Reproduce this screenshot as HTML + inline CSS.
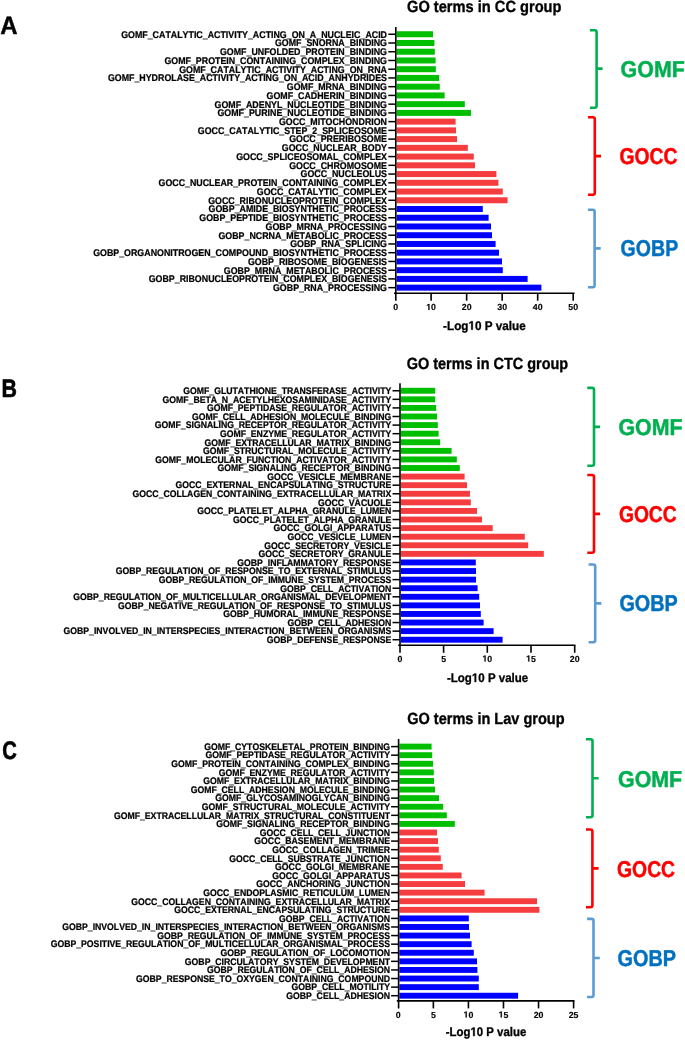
<!DOCTYPE html><html><head><meta charset="utf-8"><style>html,body{margin:0;padding:0;background:#fff;width:685px;height:1041px;overflow:hidden}svg{display:block;will-change:transform}text{font-family:"Liberation Sans",sans-serif;font-weight:bold;font-kerning:none;text-rendering:geometricPrecision}</style></head><body>
<svg width="685" height="1041" viewBox="0 0 685 1041">
<rect width="685" height="1041" fill="#fff"/>
<rect x="396.6" y="31.25" width="36.4" height="6" fill="#00be00"/>
<rect x="396.6" y="39.99" width="37.8" height="6" fill="#00be00"/>
<rect x="396.6" y="48.73" width="38.2" height="6" fill="#00be00"/>
<rect x="396.6" y="57.46" width="39" height="6" fill="#00be00"/>
<rect x="396.6" y="66.2" width="39.2" height="6" fill="#00be00"/>
<rect x="396.6" y="74.94" width="42.6" height="6" fill="#00be00"/>
<rect x="396.6" y="83.68" width="43.2" height="6" fill="#00be00"/>
<rect x="396.6" y="92.42" width="48" height="6" fill="#00be00"/>
<rect x="396.6" y="101.15" width="68.2" height="6" fill="#00be00"/>
<rect x="396.6" y="109.89" width="74.4" height="6" fill="#00be00"/>
<rect x="396.6" y="118.63" width="59" height="6" fill="#f53c3f"/>
<rect x="396.6" y="127.37" width="59.4" height="6" fill="#f53c3f"/>
<rect x="396.6" y="136.11" width="60.4" height="6" fill="#f53c3f"/>
<rect x="396.6" y="144.84" width="71.2" height="6" fill="#f53c3f"/>
<rect x="396.6" y="153.58" width="77.2" height="6" fill="#f53c3f"/>
<rect x="396.6" y="162.32" width="78.4" height="6" fill="#f53c3f"/>
<rect x="396.6" y="171.06" width="99.8" height="6" fill="#f53c3f"/>
<rect x="396.6" y="179.8" width="101.8" height="6" fill="#f53c3f"/>
<rect x="396.6" y="188.53" width="106.2" height="6" fill="#f53c3f"/>
<rect x="396.6" y="197.27" width="111" height="6" fill="#f53c3f"/>
<rect x="396.6" y="206.01" width="86.2" height="6" fill="#0000ff"/>
<rect x="396.6" y="214.75" width="92" height="6" fill="#0000ff"/>
<rect x="396.6" y="223.49" width="94.4" height="6" fill="#0000ff"/>
<rect x="396.6" y="232.22" width="95.4" height="6" fill="#0000ff"/>
<rect x="396.6" y="240.96" width="99" height="6" fill="#0000ff"/>
<rect x="396.6" y="249.7" width="102.4" height="6" fill="#0000ff"/>
<rect x="396.6" y="258.44" width="105.4" height="6" fill="#0000ff"/>
<rect x="396.6" y="267.18" width="106.2" height="6" fill="#0000ff"/>
<rect x="396.6" y="275.91" width="131" height="6" fill="#0000ff"/>
<rect x="396.6" y="284.65" width="144.8" height="6" fill="#0000ff"/>
<line x1="388.3" y1="34.25" x2="395.8" y2="34.25" stroke="#000" stroke-width="1.5"/>
<text transform="translate(387 37.6) scale(1 1.1)" font-size="8.86" text-anchor="end" stroke="#000" stroke-width="0.22">GOMF_CATALYTIC_ACTIVITY_ACTING_ON_A_NUCLEIC_ACID</text>
<line x1="388.3" y1="42.99" x2="395.8" y2="42.99" stroke="#000" stroke-width="1.5"/>
<text transform="translate(387 46.34) scale(1 1.1)" font-size="8.86" text-anchor="end" stroke="#000" stroke-width="0.22">GOMF_SNORNA_BINDING</text>
<line x1="388.3" y1="51.73" x2="395.8" y2="51.73" stroke="#000" stroke-width="1.5"/>
<text transform="translate(387 55.08) scale(1 1.1)" font-size="8.86" text-anchor="end" stroke="#000" stroke-width="0.22">GOMF_UNFOLDED_PROTEIN_BINDING</text>
<line x1="388.3" y1="60.46" x2="395.8" y2="60.46" stroke="#000" stroke-width="1.5"/>
<text transform="translate(387 63.82) scale(1 1.1)" font-size="8.86" text-anchor="end" stroke="#000" stroke-width="0.22">GOMF_PROTEIN_CONTAINING_COMPLEX_BINDING</text>
<line x1="388.3" y1="69.2" x2="395.8" y2="69.2" stroke="#000" stroke-width="1.5"/>
<text transform="translate(387 72.55) scale(1 1.1)" font-size="8.86" text-anchor="end" stroke="#000" stroke-width="0.22">GOMF_CATALYTIC_ACTIVITY_ACTING_ON_RNA</text>
<line x1="388.3" y1="77.94" x2="395.8" y2="77.94" stroke="#000" stroke-width="1.5"/>
<text transform="translate(387 81.29) scale(1 1.1)" font-size="8.86" text-anchor="end" stroke="#000" stroke-width="0.22">GOMF_HYDROLASE_ACTIVITY_ACTING_ON_ACID_ANHYDRIDES</text>
<line x1="388.3" y1="86.68" x2="395.8" y2="86.68" stroke="#000" stroke-width="1.5"/>
<text transform="translate(387 90.03) scale(1 1.1)" font-size="8.86" text-anchor="end" stroke="#000" stroke-width="0.22">GOMF_MRNA_BINDING</text>
<line x1="388.3" y1="95.42" x2="395.8" y2="95.42" stroke="#000" stroke-width="1.5"/>
<text transform="translate(387 98.77) scale(1 1.1)" font-size="8.86" text-anchor="end" stroke="#000" stroke-width="0.22">GOMF_CADHERIN_BINDING</text>
<line x1="388.3" y1="104.15" x2="395.8" y2="104.15" stroke="#000" stroke-width="1.5"/>
<text transform="translate(387 107.51) scale(1 1.1)" font-size="8.86" text-anchor="end" stroke="#000" stroke-width="0.22">GOMF_ADENYL_NUCLEOTIDE_BINDING</text>
<line x1="388.3" y1="112.89" x2="395.8" y2="112.89" stroke="#000" stroke-width="1.5"/>
<text transform="translate(387 116.24) scale(1 1.1)" font-size="8.86" text-anchor="end" stroke="#000" stroke-width="0.22">GOMF_PURINE_NUCLEOTIDE_BINDING</text>
<line x1="388.3" y1="121.63" x2="395.8" y2="121.63" stroke="#000" stroke-width="1.5"/>
<text transform="translate(387 124.98) scale(1 1.1)" font-size="8.86" text-anchor="end" stroke="#000" stroke-width="0.22">GOCC_MITOCHONDRION</text>
<line x1="388.3" y1="130.37" x2="395.8" y2="130.37" stroke="#000" stroke-width="1.5"/>
<text transform="translate(387 133.72) scale(1 1.1)" font-size="8.86" text-anchor="end" stroke="#000" stroke-width="0.22">GOCC_CATALYTIC_STEP_2_SPLICEOSOME</text>
<line x1="388.3" y1="139.11" x2="395.8" y2="139.11" stroke="#000" stroke-width="1.5"/>
<text transform="translate(387 142.46) scale(1 1.1)" font-size="8.86" text-anchor="end" stroke="#000" stroke-width="0.22">GOCC_PRERIBOSOME</text>
<line x1="388.3" y1="147.84" x2="395.8" y2="147.84" stroke="#000" stroke-width="1.5"/>
<text transform="translate(387 151.2) scale(1 1.1)" font-size="8.86" text-anchor="end" stroke="#000" stroke-width="0.22">GOCC_NUCLEAR_BODY</text>
<line x1="388.3" y1="156.58" x2="395.8" y2="156.58" stroke="#000" stroke-width="1.5"/>
<text transform="translate(387 159.93) scale(1 1.1)" font-size="8.86" text-anchor="end" stroke="#000" stroke-width="0.22">GOCC_SPLICEOSOMAL_COMPLEX</text>
<line x1="388.3" y1="165.32" x2="395.8" y2="165.32" stroke="#000" stroke-width="1.5"/>
<text transform="translate(387 168.67) scale(1 1.1)" font-size="8.86" text-anchor="end" stroke="#000" stroke-width="0.22">GOCC_CHROMOSOME</text>
<line x1="388.3" y1="174.06" x2="395.8" y2="174.06" stroke="#000" stroke-width="1.5"/>
<text transform="translate(387 177.41) scale(1 1.1)" font-size="8.86" text-anchor="end" stroke="#000" stroke-width="0.22">GOCC_NUCLEOLUS</text>
<line x1="388.3" y1="182.8" x2="395.8" y2="182.8" stroke="#000" stroke-width="1.5"/>
<text transform="translate(387 186.15) scale(1 1.1)" font-size="8.86" text-anchor="end" stroke="#000" stroke-width="0.22">GOCC_NUCLEAR_PROTEIN_CONTAINING_COMPLEX</text>
<line x1="388.3" y1="191.53" x2="395.8" y2="191.53" stroke="#000" stroke-width="1.5"/>
<text transform="translate(387 194.89) scale(1 1.1)" font-size="8.86" text-anchor="end" stroke="#000" stroke-width="0.22">GOCC_CATALYTIC_COMPLEX</text>
<line x1="388.3" y1="200.27" x2="395.8" y2="200.27" stroke="#000" stroke-width="1.5"/>
<text transform="translate(387 203.62) scale(1 1.1)" font-size="8.86" text-anchor="end" stroke="#000" stroke-width="0.22">GOCC_RIBONUCLEOPROTEIN_COMPLEX</text>
<line x1="388.3" y1="209.01" x2="395.8" y2="209.01" stroke="#000" stroke-width="1.5"/>
<text transform="translate(387 212.36) scale(1 1.1)" font-size="8.86" text-anchor="end" stroke="#000" stroke-width="0.22">GOBP_AMIDE_BIOSYNTHETIC_PROCESS</text>
<line x1="388.3" y1="217.75" x2="395.8" y2="217.75" stroke="#000" stroke-width="1.5"/>
<text transform="translate(387 221.1) scale(1 1.1)" font-size="8.86" text-anchor="end" stroke="#000" stroke-width="0.22">GOBP_PEPTIDE_BIOSYNTHETIC_PROCESS</text>
<line x1="388.3" y1="226.49" x2="395.8" y2="226.49" stroke="#000" stroke-width="1.5"/>
<text transform="translate(387 229.84) scale(1 1.1)" font-size="8.86" text-anchor="end" stroke="#000" stroke-width="0.22">GOBP_MRNA_PROCESSING</text>
<line x1="388.3" y1="235.22" x2="395.8" y2="235.22" stroke="#000" stroke-width="1.5"/>
<text transform="translate(387 238.58) scale(1 1.1)" font-size="8.86" text-anchor="end" stroke="#000" stroke-width="0.22">GOBP_NCRNA_METABOLIC_PROCESS</text>
<line x1="388.3" y1="243.96" x2="395.8" y2="243.96" stroke="#000" stroke-width="1.5"/>
<text transform="translate(387 247.31) scale(1 1.1)" font-size="8.86" text-anchor="end" stroke="#000" stroke-width="0.22">GOBP_RNA_SPLICING</text>
<line x1="388.3" y1="252.7" x2="395.8" y2="252.7" stroke="#000" stroke-width="1.5"/>
<text transform="translate(387 256.05) scale(1 1.1)" font-size="8.86" text-anchor="end" stroke="#000" stroke-width="0.22">GOBP_ORGANONITROGEN_COMPOUND_BIOSYNTHETIC_PROCESS</text>
<line x1="388.3" y1="261.44" x2="395.8" y2="261.44" stroke="#000" stroke-width="1.5"/>
<text transform="translate(387 264.79) scale(1 1.1)" font-size="8.86" text-anchor="end" stroke="#000" stroke-width="0.22">GOBP_RIBOSOME_BIOGENESIS</text>
<line x1="388.3" y1="270.18" x2="395.8" y2="270.18" stroke="#000" stroke-width="1.5"/>
<text transform="translate(387 273.53) scale(1 1.1)" font-size="8.86" text-anchor="end" stroke="#000" stroke-width="0.22">GOBP_MRNA_METABOLIC_PROCESS</text>
<line x1="388.3" y1="278.91" x2="395.8" y2="278.91" stroke="#000" stroke-width="1.5"/>
<text transform="translate(387 282.27) scale(1 1.1)" font-size="8.86" text-anchor="end" stroke="#000" stroke-width="0.22">GOBP_RIBONUCLEOPROTEIN_COMPLEX_BIOGENESIS</text>
<line x1="388.3" y1="287.65" x2="395.8" y2="287.65" stroke="#000" stroke-width="1.5"/>
<text transform="translate(387 291) scale(1 1.1)" font-size="8.86" text-anchor="end" stroke="#000" stroke-width="0.22">GOBP_RNA_PROCESSING</text>
<line x1="395.8" y1="27" x2="395.8" y2="300.7" stroke="#000" stroke-width="1.6"/>
<line x1="394" y1="293.2" x2="574.6" y2="293.2" stroke="#000" stroke-width="1.6"/>
<g transform="translate(393.15 310) scale(1.0000 1.0)"><text x="0" y="0" font-size="8.8" stroke="#000" stroke-width="0.15">0</text></g>
<line x1="431.12" y1="293.2" x2="431.12" y2="300.7" stroke="#000" stroke-width="1.6"/>
<g transform="translate(426.23 310) scale(1.0000 1.0)"><path transform="translate(0 0) scale(0.00430 -0.00430)" d="M478 0V1170L140 959V1180L493 1409H759V0Z" stroke="#000" stroke-width="34.9"/><text x="4.89" y="0" font-size="8.8" stroke="#000" stroke-width="0.15">0</text></g>
<line x1="466.64" y1="293.2" x2="466.64" y2="300.7" stroke="#000" stroke-width="1.6"/>
<g transform="translate(461.75 310) scale(1.0000 1.0)"><text x="0" y="0" font-size="8.8" stroke="#000" stroke-width="0.15">20</text></g>
<line x1="502.16" y1="293.2" x2="502.16" y2="300.7" stroke="#000" stroke-width="1.6"/>
<g transform="translate(497.27 310) scale(1.0000 1.0)"><text x="0" y="0" font-size="8.8" stroke="#000" stroke-width="0.15">30</text></g>
<line x1="537.68" y1="293.2" x2="537.68" y2="300.7" stroke="#000" stroke-width="1.6"/>
<g transform="translate(532.79 310) scale(1.0000 1.0)"><text x="0" y="0" font-size="8.8" stroke="#000" stroke-width="0.15">40</text></g>
<line x1="573.2" y1="293.2" x2="573.2" y2="300.7" stroke="#000" stroke-width="1.6"/>
<g transform="translate(568.31 310) scale(1.0000 1.0)"><text x="0" y="0" font-size="8.8" stroke="#000" stroke-width="0.15">50</text></g>
<g transform="translate(443.1 329.7) scale(1.0018 1.06)"><text x="0" y="0" font-size="11.7" stroke="#000" stroke-width="0.3">-Log</text><path transform="translate(25.33 0) scale(0.00571 -0.00571)" d="M478 0V1170L140 959V1180L493 1409H759V0Z" stroke="#000" stroke-width="52.5"/><text x="31.84" y="0" font-size="11.7" stroke="#000" stroke-width="0.3">0 P value</text></g>
<text transform="translate(407 11.6) scale(1 1.12)" font-size="14.4" textLength="154.5" lengthAdjust="spacingAndGlyphs" stroke="#000" stroke-width="0.3">GO terms in CC group</text>
<text transform="translate(0.3 34.3) scale(1 1.04)" font-size="24" stroke="#000" stroke-width="0.4">A</text>
<path d="M589.9 30.2H594.6Q596.6 30.2 596.6 32.2V105.7Q596.6 107.7 594.6 107.7H589.9M596.6 68.6H602.6" fill="none" stroke="#00b050" stroke-width="2.6"/>
<path d="M588 117.2H592.8Q594.8 117.2 594.8 119.2V192.8Q594.8 194.8 592.8 194.8H588M594.8 156.1H601" fill="none" stroke="#ff0000" stroke-width="2.6"/>
<path d="M588 209.7H592.6Q594.6 209.7 594.6 211.7V285.3Q594.6 287.3 592.6 287.3H588M594.6 248.4H600.7" fill="none" stroke="#5b9bd5" stroke-width="2.6"/>
<text transform="translate(620.62 76.6) scale(1 1.04)" font-size="22" fill="#00b050" stroke="#00b050" stroke-width="0.45" textLength="64.16" lengthAdjust="spacingAndGlyphs">GOMF</text>
<text transform="translate(619.42 164.2) scale(1 1.04)" font-size="22" fill="#ff0000" stroke="#ff0000" stroke-width="0.45" textLength="58.06" lengthAdjust="spacingAndGlyphs">GOCC</text>
<text transform="translate(620.62 256) scale(1 1.04)" font-size="22" fill="#0070c0" stroke="#0070c0" stroke-width="0.45" textLength="57.56" lengthAdjust="spacingAndGlyphs">GOBP</text>
<rect x="400.8" y="387.8" width="34.4" height="5.9" fill="#00be00"/>
<rect x="400.8" y="396.38" width="34.4" height="5.9" fill="#00be00"/>
<rect x="400.8" y="404.97" width="35.4" height="5.9" fill="#00be00"/>
<rect x="400.8" y="413.56" width="36.2" height="5.9" fill="#00be00"/>
<rect x="400.8" y="422.14" width="37" height="5.9" fill="#00be00"/>
<rect x="400.8" y="430.73" width="37.8" height="5.9" fill="#00be00"/>
<rect x="400.8" y="439.31" width="39.4" height="5.9" fill="#00be00"/>
<rect x="400.8" y="447.9" width="50.8" height="5.9" fill="#00be00"/>
<rect x="400.8" y="456.48" width="56" height="5.9" fill="#00be00"/>
<rect x="400.8" y="465.07" width="59" height="5.9" fill="#00be00"/>
<rect x="400.8" y="473.65" width="63.8" height="5.9" fill="#f53c3f"/>
<rect x="400.8" y="482.24" width="66.2" height="5.9" fill="#f53c3f"/>
<rect x="400.8" y="490.82" width="69.2" height="5.9" fill="#f53c3f"/>
<rect x="400.8" y="499.41" width="70" height="5.9" fill="#f53c3f"/>
<rect x="400.8" y="507.99" width="76.2" height="5.9" fill="#f53c3f"/>
<rect x="400.8" y="516.58" width="81.2" height="5.9" fill="#f53c3f"/>
<rect x="400.8" y="525.16" width="91.9" height="5.9" fill="#f53c3f"/>
<rect x="400.8" y="533.75" width="124" height="5.9" fill="#f53c3f"/>
<rect x="400.8" y="542.33" width="127.4" height="5.9" fill="#f53c3f"/>
<rect x="400.8" y="550.91" width="143" height="5.9" fill="#f53c3f"/>
<rect x="400.8" y="559.5" width="75" height="5.9" fill="#0000ff"/>
<rect x="400.8" y="568.09" width="75.2" height="5.9" fill="#0000ff"/>
<rect x="400.8" y="576.67" width="75.2" height="5.9" fill="#0000ff"/>
<rect x="400.8" y="585.25" width="76.8" height="5.9" fill="#0000ff"/>
<rect x="400.8" y="593.84" width="78.4" height="5.9" fill="#0000ff"/>
<rect x="400.8" y="602.43" width="79.2" height="5.9" fill="#0000ff"/>
<rect x="400.8" y="611.01" width="80" height="5.9" fill="#0000ff"/>
<rect x="400.8" y="619.6" width="82.8" height="5.9" fill="#0000ff"/>
<rect x="400.8" y="628.18" width="92.8" height="5.9" fill="#0000ff"/>
<rect x="400.8" y="636.77" width="101.8" height="5.9" fill="#0000ff"/>
<line x1="392.5" y1="390.75" x2="400" y2="390.75" stroke="#000" stroke-width="1.5"/>
<text transform="translate(391.3 394.04) scale(1 1.1)" font-size="8.7" text-anchor="end" stroke="#000" stroke-width="0.22">GOMF_GLUTATHIONE_TRANSFERASE_ACTIVITY</text>
<line x1="392.5" y1="399.33" x2="400" y2="399.33" stroke="#000" stroke-width="1.5"/>
<text transform="translate(391.3 402.63) scale(1 1.1)" font-size="8.7" text-anchor="end" stroke="#000" stroke-width="0.22">GOMF_BETA_N_ACETYLHEXOSAMINIDASE_ACTIVITY</text>
<line x1="392.5" y1="407.92" x2="400" y2="407.92" stroke="#000" stroke-width="1.5"/>
<text transform="translate(391.3 411.21) scale(1 1.1)" font-size="8.7" text-anchor="end" stroke="#000" stroke-width="0.22">GOMF_PEPTIDASE_REGULATOR_ACTIVITY</text>
<line x1="392.5" y1="416.5" x2="400" y2="416.5" stroke="#000" stroke-width="1.5"/>
<text transform="translate(391.3 419.8) scale(1 1.1)" font-size="8.7" text-anchor="end" stroke="#000" stroke-width="0.22">GOMF_CELL_ADHESION_MOLECULE_BINDING</text>
<line x1="392.5" y1="425.09" x2="400" y2="425.09" stroke="#000" stroke-width="1.5"/>
<text transform="translate(391.3 428.38) scale(1 1.1)" font-size="8.7" text-anchor="end" stroke="#000" stroke-width="0.22">GOMF_SIGNALING_RECEPTOR_REGULATOR_ACTIVITY</text>
<line x1="392.5" y1="433.68" x2="400" y2="433.68" stroke="#000" stroke-width="1.5"/>
<text transform="translate(391.3 436.97) scale(1 1.1)" font-size="8.7" text-anchor="end" stroke="#000" stroke-width="0.22">GOMF_ENZYME_REGULATOR_ACTIVITY</text>
<line x1="392.5" y1="442.26" x2="400" y2="442.26" stroke="#000" stroke-width="1.5"/>
<text transform="translate(391.3 445.55) scale(1 1.1)" font-size="8.7" text-anchor="end" stroke="#000" stroke-width="0.22">GOMF_EXTRACELLULAR_MATRIX_BINDING</text>
<line x1="392.5" y1="450.85" x2="400" y2="450.85" stroke="#000" stroke-width="1.5"/>
<text transform="translate(391.3 454.14) scale(1 1.1)" font-size="8.7" text-anchor="end" stroke="#000" stroke-width="0.22">GOMF_STRUCTURAL_MOLECULE_ACTIVITY</text>
<line x1="392.5" y1="459.43" x2="400" y2="459.43" stroke="#000" stroke-width="1.5"/>
<text transform="translate(391.3 462.72) scale(1 1.1)" font-size="8.7" text-anchor="end" stroke="#000" stroke-width="0.22">GOMF_MOLECULAR_FUNCTION_ACTIVATOR_ACTIVITY</text>
<line x1="392.5" y1="468.02" x2="400" y2="468.02" stroke="#000" stroke-width="1.5"/>
<text transform="translate(391.3 471.31) scale(1 1.1)" font-size="8.7" text-anchor="end" stroke="#000" stroke-width="0.22">GOMF_SIGNALING_RECEPTOR_BINDING</text>
<line x1="392.5" y1="476.6" x2="400" y2="476.6" stroke="#000" stroke-width="1.5"/>
<text transform="translate(391.3 479.89) scale(1 1.1)" font-size="8.7" text-anchor="end" stroke="#000" stroke-width="0.22">GOCC_VESICLE_MEMBRANE</text>
<line x1="392.5" y1="485.19" x2="400" y2="485.19" stroke="#000" stroke-width="1.5"/>
<text transform="translate(391.3 488.48) scale(1 1.1)" font-size="8.7" text-anchor="end" stroke="#000" stroke-width="0.22">GOCC_EXTERNAL_ENCAPSULATING_STRUCTURE</text>
<line x1="392.5" y1="493.77" x2="400" y2="493.77" stroke="#000" stroke-width="1.5"/>
<text transform="translate(391.3 497.06) scale(1 1.1)" font-size="8.7" text-anchor="end" stroke="#000" stroke-width="0.22">GOCC_COLLAGEN_CONTAINING_EXTRACELLULAR_MATRIX</text>
<line x1="392.5" y1="502.36" x2="400" y2="502.36" stroke="#000" stroke-width="1.5"/>
<text transform="translate(391.3 505.65) scale(1 1.1)" font-size="8.7" text-anchor="end" stroke="#000" stroke-width="0.22">GOCC_VACUOLE</text>
<line x1="392.5" y1="510.94" x2="400" y2="510.94" stroke="#000" stroke-width="1.5"/>
<text transform="translate(391.3 514.23) scale(1 1.1)" font-size="8.7" text-anchor="end" stroke="#000" stroke-width="0.22">GOCC_PLATELET_ALPHA_GRANULE_LUMEN</text>
<line x1="392.5" y1="519.53" x2="400" y2="519.53" stroke="#000" stroke-width="1.5"/>
<text transform="translate(391.3 522.82) scale(1 1.1)" font-size="8.7" text-anchor="end" stroke="#000" stroke-width="0.22">GOCC_PLATELET_ALPHA_GRANULE</text>
<line x1="392.5" y1="528.11" x2="400" y2="528.11" stroke="#000" stroke-width="1.5"/>
<text transform="translate(391.3 531.4) scale(1 1.1)" font-size="8.7" text-anchor="end" stroke="#000" stroke-width="0.22">GOCC_GOLGI_APPARATUS</text>
<line x1="392.5" y1="536.7" x2="400" y2="536.7" stroke="#000" stroke-width="1.5"/>
<text transform="translate(391.3 539.99) scale(1 1.1)" font-size="8.7" text-anchor="end" stroke="#000" stroke-width="0.22">GOCC_VESICLE_LUMEN</text>
<line x1="392.5" y1="545.28" x2="400" y2="545.28" stroke="#000" stroke-width="1.5"/>
<text transform="translate(391.3 548.57) scale(1 1.1)" font-size="8.7" text-anchor="end" stroke="#000" stroke-width="0.22">GOCC_SECRETORY_VESICLE</text>
<line x1="392.5" y1="553.87" x2="400" y2="553.87" stroke="#000" stroke-width="1.5"/>
<text transform="translate(391.3 557.16) scale(1 1.1)" font-size="8.7" text-anchor="end" stroke="#000" stroke-width="0.22">GOCC_SECRETORY_GRANULE</text>
<line x1="392.5" y1="562.45" x2="400" y2="562.45" stroke="#000" stroke-width="1.5"/>
<text transform="translate(391.3 565.74) scale(1 1.1)" font-size="8.7" text-anchor="end" stroke="#000" stroke-width="0.22">GOBP_INFLAMMATORY_RESPONSE</text>
<line x1="392.5" y1="571.04" x2="400" y2="571.04" stroke="#000" stroke-width="1.5"/>
<text transform="translate(391.3 574.33) scale(1 1.1)" font-size="8.7" text-anchor="end" stroke="#000" stroke-width="0.22">GOBP_REGULATION_OF_RESPONSE_TO_EXTERNAL_STIMULUS</text>
<line x1="392.5" y1="579.62" x2="400" y2="579.62" stroke="#000" stroke-width="1.5"/>
<text transform="translate(391.3 582.91) scale(1 1.1)" font-size="8.7" text-anchor="end" stroke="#000" stroke-width="0.22">GOBP_REGULATION_OF_IMMUNE_SYSTEM_PROCESS</text>
<line x1="392.5" y1="588.21" x2="400" y2="588.21" stroke="#000" stroke-width="1.5"/>
<text transform="translate(391.3 591.5) scale(1 1.1)" font-size="8.7" text-anchor="end" stroke="#000" stroke-width="0.22">GOBP_CELL_ACTIVATION</text>
<line x1="392.5" y1="596.79" x2="400" y2="596.79" stroke="#000" stroke-width="1.5"/>
<text transform="translate(391.3 600.08) scale(1 1.1)" font-size="8.7" text-anchor="end" stroke="#000" stroke-width="0.22">GOBP_REGULATION_OF_MULTICELLULAR_ORGANISMAL_DEVELOPMENT</text>
<line x1="392.5" y1="605.38" x2="400" y2="605.38" stroke="#000" stroke-width="1.5"/>
<text transform="translate(391.3 608.67) scale(1 1.1)" font-size="8.7" text-anchor="end" stroke="#000" stroke-width="0.22">GOBP_NEGATIVE_REGULATION_OF_RESPONSE_TO_STIMULUS</text>
<line x1="392.5" y1="613.96" x2="400" y2="613.96" stroke="#000" stroke-width="1.5"/>
<text transform="translate(391.3 617.25) scale(1 1.1)" font-size="8.7" text-anchor="end" stroke="#000" stroke-width="0.22">GOBP_HUMORAL_IMMUNE_RESPONSE</text>
<line x1="392.5" y1="622.55" x2="400" y2="622.55" stroke="#000" stroke-width="1.5"/>
<text transform="translate(391.3 625.84) scale(1 1.1)" font-size="8.7" text-anchor="end" stroke="#000" stroke-width="0.22">GOBP_CELL_ADHESION</text>
<line x1="392.5" y1="631.13" x2="400" y2="631.13" stroke="#000" stroke-width="1.5"/>
<text transform="translate(391.3 634.42) scale(1 1.1)" font-size="8.7" text-anchor="end" stroke="#000" stroke-width="0.22">GOBP_INVOLVED_IN_INTERSPECIES_INTERACTION_BETWEEN_ORGANISMS</text>
<line x1="392.5" y1="639.72" x2="400" y2="639.72" stroke="#000" stroke-width="1.5"/>
<text transform="translate(391.3 643.01) scale(1 1.1)" font-size="8.7" text-anchor="end" stroke="#000" stroke-width="0.22">GOBP_DEFENSE_RESPONSE</text>
<line x1="400" y1="383.3" x2="400" y2="652.8" stroke="#000" stroke-width="1.6"/>
<line x1="398.2" y1="645.3" x2="575.5" y2="645.3" stroke="#000" stroke-width="1.6"/>
<g transform="translate(397.45 661.5) scale(1.0000 1.0)"><text x="0" y="0" font-size="8.8" stroke="#000" stroke-width="0.15">0</text></g>
<line x1="443.6" y1="645.3" x2="443.6" y2="652.8" stroke="#000" stroke-width="1.6"/>
<g transform="translate(441.15 661.5) scale(1.0000 1.0)"><text x="0" y="0" font-size="8.8" stroke="#000" stroke-width="0.15">5</text></g>
<line x1="487.3" y1="645.3" x2="487.3" y2="652.8" stroke="#000" stroke-width="1.6"/>
<g transform="translate(482.41 661.5) scale(1.0000 1.0)"><path transform="translate(0 0) scale(0.00430 -0.00430)" d="M478 0V1170L140 959V1180L493 1409H759V0Z" stroke="#000" stroke-width="34.9"/><text x="4.89" y="0" font-size="8.8" stroke="#000" stroke-width="0.15">0</text></g>
<line x1="531" y1="645.3" x2="531" y2="652.8" stroke="#000" stroke-width="1.6"/>
<g transform="translate(526.11 661.5) scale(1.0000 1.0)"><path transform="translate(0 0) scale(0.00430 -0.00430)" d="M478 0V1170L140 959V1180L493 1409H759V0Z" stroke="#000" stroke-width="34.9"/><text x="4.89" y="0" font-size="8.8" stroke="#000" stroke-width="0.15">5</text></g>
<line x1="574.7" y1="645.3" x2="574.7" y2="652.8" stroke="#000" stroke-width="1.6"/>
<g transform="translate(569.81 661.5) scale(1.0000 1.0)"><text x="0" y="0" font-size="8.8" stroke="#000" stroke-width="0.15">20</text></g>
<g transform="translate(447 682) scale(0.9835 1.06)"><text x="0" y="0" font-size="11.7" stroke="#000" stroke-width="0.3">-Log</text><path transform="translate(25.33 0) scale(0.00571 -0.00571)" d="M478 0V1170L140 959V1180L493 1409H759V0Z" stroke="#000" stroke-width="52.5"/><text x="31.84" y="0" font-size="11.7" stroke="#000" stroke-width="0.3">0 P value</text></g>
<text transform="translate(406.7 369) scale(1 1.12)" font-size="14.4" textLength="161.5" lengthAdjust="spacingAndGlyphs" stroke="#000" stroke-width="0.3">GO terms in CTC group</text>
<text transform="translate(1.6 396.6) scale(0.85 1)" font-size="25.2" stroke="#000" stroke-width="0.6">B</text>
<path d="M587.3 387.9H592Q594 387.9 594 389.9V463.7Q594 465.7 592 465.7H587.3M594 426.9H600" fill="none" stroke="#00b050" stroke-width="2.6"/>
<path d="M587.3 475H592Q594 475 594 477V550.7Q594 552.7 592 552.7H587.3M594 513.9H600" fill="none" stroke="#ff0000" stroke-width="2.6"/>
<path d="M588.6 564.5H593.2Q595.2 564.5 595.2 566.5V640.3Q595.2 642.3 593.2 642.3H588.6M595.2 603.4H601.4" fill="none" stroke="#5b9bd5" stroke-width="2.6"/>
<text transform="translate(618.42 435) scale(1 1.04)" font-size="22" fill="#00b050" stroke="#00b050" stroke-width="0.45" textLength="64.16" lengthAdjust="spacingAndGlyphs">GOMF</text>
<text transform="translate(618.92 522.2) scale(1 1.04)" font-size="22" fill="#ff0000" stroke="#ff0000" stroke-width="0.45" textLength="57.76" lengthAdjust="spacingAndGlyphs">GOCC</text>
<text transform="translate(619.42 610.8) scale(1 1.04)" font-size="22" fill="#0070c0" stroke="#0070c0" stroke-width="0.45" textLength="58.36" lengthAdjust="spacingAndGlyphs">GOBP</text>
<rect x="399.4" y="743.65" width="32.2" height="5.9" fill="#00be00"/>
<rect x="399.4" y="752.24" width="32.8" height="5.9" fill="#00be00"/>
<rect x="399.4" y="760.83" width="33.6" height="5.9" fill="#00be00"/>
<rect x="399.4" y="769.42" width="34.4" height="5.9" fill="#00be00"/>
<rect x="399.4" y="778.01" width="34.6" height="5.9" fill="#00be00"/>
<rect x="399.4" y="786.6" width="35.6" height="5.9" fill="#00be00"/>
<rect x="399.4" y="795.19" width="39.6" height="5.9" fill="#00be00"/>
<rect x="399.4" y="803.78" width="43.8" height="5.9" fill="#00be00"/>
<rect x="399.4" y="812.37" width="47.4" height="5.9" fill="#00be00"/>
<rect x="399.4" y="820.96" width="55.4" height="5.9" fill="#00be00"/>
<rect x="399.4" y="829.55" width="37.6" height="5.9" fill="#f53c3f"/>
<rect x="399.4" y="838.14" width="38.6" height="5.9" fill="#f53c3f"/>
<rect x="399.4" y="846.73" width="39.4" height="5.9" fill="#f53c3f"/>
<rect x="399.4" y="855.32" width="41.4" height="5.9" fill="#f53c3f"/>
<rect x="399.4" y="863.91" width="43.4" height="5.9" fill="#f53c3f"/>
<rect x="399.4" y="872.5" width="62.2" height="5.9" fill="#f53c3f"/>
<rect x="399.4" y="881.09" width="65.6" height="5.9" fill="#f53c3f"/>
<rect x="399.4" y="889.68" width="85.2" height="5.9" fill="#f53c3f"/>
<rect x="399.4" y="898.27" width="137.6" height="5.9" fill="#f53c3f"/>
<rect x="399.4" y="906.86" width="140" height="5.9" fill="#f53c3f"/>
<rect x="399.4" y="915.45" width="69.4" height="5.9" fill="#0000ff"/>
<rect x="399.4" y="924.04" width="69.6" height="5.9" fill="#0000ff"/>
<rect x="399.4" y="932.63" width="70.6" height="5.9" fill="#0000ff"/>
<rect x="399.4" y="941.22" width="72.2" height="5.9" fill="#0000ff"/>
<rect x="399.4" y="949.81" width="74.4" height="5.9" fill="#0000ff"/>
<rect x="399.4" y="958.4" width="77.6" height="5.9" fill="#0000ff"/>
<rect x="399.4" y="966.99" width="78" height="5.9" fill="#0000ff"/>
<rect x="399.4" y="975.58" width="79.4" height="5.9" fill="#0000ff"/>
<rect x="399.4" y="984.17" width="79.4" height="5.9" fill="#0000ff"/>
<rect x="399.4" y="992.76" width="118.7" height="5.9" fill="#0000ff"/>
<line x1="391.1" y1="746.6" x2="398.6" y2="746.6" stroke="#000" stroke-width="1.5"/>
<text transform="translate(390 749.89) scale(1 1.1)" font-size="8.7" text-anchor="end" stroke="#000" stroke-width="0.22">GOMF_CYTOSKELETAL_PROTEIN_BINDING</text>
<line x1="391.1" y1="755.19" x2="398.6" y2="755.19" stroke="#000" stroke-width="1.5"/>
<text transform="translate(390 758.48) scale(1 1.1)" font-size="8.7" text-anchor="end" stroke="#000" stroke-width="0.22">GOMF_PEPTIDASE_REGULATOR_ACTIVITY</text>
<line x1="391.1" y1="763.78" x2="398.6" y2="763.78" stroke="#000" stroke-width="1.5"/>
<text transform="translate(390 767.07) scale(1 1.1)" font-size="8.7" text-anchor="end" stroke="#000" stroke-width="0.22">GOMF_PROTEIN_CONTAINING_COMPLEX_BINDING</text>
<line x1="391.1" y1="772.37" x2="398.6" y2="772.37" stroke="#000" stroke-width="1.5"/>
<text transform="translate(390 775.66) scale(1 1.1)" font-size="8.7" text-anchor="end" stroke="#000" stroke-width="0.22">GOMF_ENZYME_REGULATOR_ACTIVITY</text>
<line x1="391.1" y1="780.96" x2="398.6" y2="780.96" stroke="#000" stroke-width="1.5"/>
<text transform="translate(390 784.25) scale(1 1.1)" font-size="8.7" text-anchor="end" stroke="#000" stroke-width="0.22">GOMF_EXTRACELLULAR_MATRIX_BINDING</text>
<line x1="391.1" y1="789.55" x2="398.6" y2="789.55" stroke="#000" stroke-width="1.5"/>
<text transform="translate(390 792.84) scale(1 1.1)" font-size="8.7" text-anchor="end" stroke="#000" stroke-width="0.22">GOMF_CELL_ADHESION_MOLECULE_BINDING</text>
<line x1="391.1" y1="798.14" x2="398.6" y2="798.14" stroke="#000" stroke-width="1.5"/>
<text transform="translate(390 801.43) scale(1 1.1)" font-size="8.7" text-anchor="end" stroke="#000" stroke-width="0.22">GOMF_GLYCOSAMINOGLYCAN_BINDING</text>
<line x1="391.1" y1="806.73" x2="398.6" y2="806.73" stroke="#000" stroke-width="1.5"/>
<text transform="translate(390 810.02) scale(1 1.1)" font-size="8.7" text-anchor="end" stroke="#000" stroke-width="0.22">GOMF_STRUCTURAL_MOLECULE_ACTIVITY</text>
<line x1="391.1" y1="815.32" x2="398.6" y2="815.32" stroke="#000" stroke-width="1.5"/>
<text transform="translate(390 818.61) scale(1 1.1)" font-size="8.7" text-anchor="end" stroke="#000" stroke-width="0.22">GOMF_EXTRACELLULAR_MATRIX_STRUCTURAL_CONSTITUENT</text>
<line x1="391.1" y1="823.91" x2="398.6" y2="823.91" stroke="#000" stroke-width="1.5"/>
<text transform="translate(390 827.2) scale(1 1.1)" font-size="8.7" text-anchor="end" stroke="#000" stroke-width="0.22">GOMF_SIGNALING_RECEPTOR_BINDING</text>
<line x1="391.1" y1="832.5" x2="398.6" y2="832.5" stroke="#000" stroke-width="1.5"/>
<text transform="translate(390 835.79) scale(1 1.1)" font-size="8.7" text-anchor="end" stroke="#000" stroke-width="0.22">GOCC_CELL_CELL_JUNCTION</text>
<line x1="391.1" y1="841.09" x2="398.6" y2="841.09" stroke="#000" stroke-width="1.5"/>
<text transform="translate(390 844.38) scale(1 1.1)" font-size="8.7" text-anchor="end" stroke="#000" stroke-width="0.22">GOCC_BASEMENT_MEMBRANE</text>
<line x1="391.1" y1="849.68" x2="398.6" y2="849.68" stroke="#000" stroke-width="1.5"/>
<text transform="translate(390 852.97) scale(1 1.1)" font-size="8.7" text-anchor="end" stroke="#000" stroke-width="0.22">GOCC_COLLAGEN_TRIMER</text>
<line x1="391.1" y1="858.27" x2="398.6" y2="858.27" stroke="#000" stroke-width="1.5"/>
<text transform="translate(390 861.56) scale(1 1.1)" font-size="8.7" text-anchor="end" stroke="#000" stroke-width="0.22">GOCC_CELL_SUBSTRATE_JUNCTION</text>
<line x1="391.1" y1="866.86" x2="398.6" y2="866.86" stroke="#000" stroke-width="1.5"/>
<text transform="translate(390 870.15) scale(1 1.1)" font-size="8.7" text-anchor="end" stroke="#000" stroke-width="0.22">GOCC_GOLGI_MEMBRANE</text>
<line x1="391.1" y1="875.45" x2="398.6" y2="875.45" stroke="#000" stroke-width="1.5"/>
<text transform="translate(390 878.74) scale(1 1.1)" font-size="8.7" text-anchor="end" stroke="#000" stroke-width="0.22">GOCC_GOLGI_APPARATUS</text>
<line x1="391.1" y1="884.04" x2="398.6" y2="884.04" stroke="#000" stroke-width="1.5"/>
<text transform="translate(390 887.33) scale(1 1.1)" font-size="8.7" text-anchor="end" stroke="#000" stroke-width="0.22">GOCC_ANCHORING_JUNCTION</text>
<line x1="391.1" y1="892.63" x2="398.6" y2="892.63" stroke="#000" stroke-width="1.5"/>
<text transform="translate(390 895.92) scale(1 1.1)" font-size="8.7" text-anchor="end" stroke="#000" stroke-width="0.22">GOCC_ENDOPLASMIC_RETICULUM_LUMEN</text>
<line x1="391.1" y1="901.22" x2="398.6" y2="901.22" stroke="#000" stroke-width="1.5"/>
<text transform="translate(390 904.51) scale(1 1.1)" font-size="8.7" text-anchor="end" stroke="#000" stroke-width="0.22">GOCC_COLLAGEN_CONTAINING_EXTRACELLULAR_MATRIX</text>
<line x1="391.1" y1="909.81" x2="398.6" y2="909.81" stroke="#000" stroke-width="1.5"/>
<text transform="translate(390 913.1) scale(1 1.1)" font-size="8.7" text-anchor="end" stroke="#000" stroke-width="0.22">GOCC_EXTERNAL_ENCAPSULATING_STRUCTURE</text>
<line x1="391.1" y1="918.4" x2="398.6" y2="918.4" stroke="#000" stroke-width="1.5"/>
<text transform="translate(390 921.69) scale(1 1.1)" font-size="8.7" text-anchor="end" stroke="#000" stroke-width="0.22">GOBP_CELL_ACTIVATION</text>
<line x1="391.1" y1="926.99" x2="398.6" y2="926.99" stroke="#000" stroke-width="1.5"/>
<text transform="translate(390 930.28) scale(1 1.1)" font-size="8.7" text-anchor="end" stroke="#000" stroke-width="0.22">GOBP_INVOLVED_IN_INTERSPECIES_INTERACTION_BETWEEN_ORGANISMS</text>
<line x1="391.1" y1="935.58" x2="398.6" y2="935.58" stroke="#000" stroke-width="1.5"/>
<text transform="translate(390 938.87) scale(1 1.1)" font-size="8.7" text-anchor="end" stroke="#000" stroke-width="0.22">GOBP_REGULATION_OF_IMMUNE_SYSTEM_PROCESS</text>
<line x1="391.1" y1="944.17" x2="398.6" y2="944.17" stroke="#000" stroke-width="1.5"/>
<text transform="translate(390 947.46) scale(1 1.1)" font-size="8.7" text-anchor="end" stroke="#000" stroke-width="0.22">GOBP_POSITIVE_REGULATION_OF_MULTICELLULAR_ORGANISMAL_PROCESS</text>
<line x1="391.1" y1="952.76" x2="398.6" y2="952.76" stroke="#000" stroke-width="1.5"/>
<text transform="translate(390 956.05) scale(1 1.1)" font-size="8.7" text-anchor="end" stroke="#000" stroke-width="0.22">GOBP_REGULATION_OF_LOCOMOTION</text>
<line x1="391.1" y1="961.35" x2="398.6" y2="961.35" stroke="#000" stroke-width="1.5"/>
<text transform="translate(390 964.64) scale(1 1.1)" font-size="8.7" text-anchor="end" stroke="#000" stroke-width="0.22">GOBP_CIRCULATORY_SYSTEM_DEVELOPMENT</text>
<line x1="391.1" y1="969.94" x2="398.6" y2="969.94" stroke="#000" stroke-width="1.5"/>
<text transform="translate(390 973.23) scale(1 1.1)" font-size="8.7" text-anchor="end" stroke="#000" stroke-width="0.22">GOBP_REGULATION_OF_CELL_ADHESION</text>
<line x1="391.1" y1="978.53" x2="398.6" y2="978.53" stroke="#000" stroke-width="1.5"/>
<text transform="translate(390 981.82) scale(1 1.1)" font-size="8.7" text-anchor="end" stroke="#000" stroke-width="0.22">GOBP_RESPONSE_TO_OXYGEN_CONTAINING_COMPOUND</text>
<line x1="391.1" y1="987.12" x2="398.6" y2="987.12" stroke="#000" stroke-width="1.5"/>
<text transform="translate(390 990.41) scale(1 1.1)" font-size="8.7" text-anchor="end" stroke="#000" stroke-width="0.22">GOBP_CELL_MOTILITY</text>
<line x1="391.1" y1="995.71" x2="398.6" y2="995.71" stroke="#000" stroke-width="1.5"/>
<text transform="translate(390 999) scale(1 1.1)" font-size="8.7" text-anchor="end" stroke="#000" stroke-width="0.22">GOBP_CELL_ADHESION</text>
<line x1="398.6" y1="739.1" x2="398.6" y2="1008.4" stroke="#000" stroke-width="1.6"/>
<line x1="396.8" y1="1000.9" x2="574.5" y2="1000.9" stroke="#000" stroke-width="1.6"/>
<g transform="translate(395.85 1017.5) scale(1.0000 1.0)"><text x="0" y="0" font-size="8.8" stroke="#000" stroke-width="0.15">0</text></g>
<line x1="433.36" y1="1000.9" x2="433.36" y2="1008.4" stroke="#000" stroke-width="1.6"/>
<g transform="translate(430.91 1017.5) scale(1.0000 1.0)"><text x="0" y="0" font-size="8.8" stroke="#000" stroke-width="0.15">5</text></g>
<line x1="468.42" y1="1000.9" x2="468.42" y2="1008.4" stroke="#000" stroke-width="1.6"/>
<g transform="translate(463.53 1017.5) scale(1.0000 1.0)"><path transform="translate(0 0) scale(0.00430 -0.00430)" d="M478 0V1170L140 959V1180L493 1409H759V0Z" stroke="#000" stroke-width="34.9"/><text x="4.89" y="0" font-size="8.8" stroke="#000" stroke-width="0.15">0</text></g>
<line x1="503.48" y1="1000.9" x2="503.48" y2="1008.4" stroke="#000" stroke-width="1.6"/>
<g transform="translate(498.59 1017.5) scale(1.0000 1.0)"><path transform="translate(0 0) scale(0.00430 -0.00430)" d="M478 0V1170L140 959V1180L493 1409H759V0Z" stroke="#000" stroke-width="34.9"/><text x="4.89" y="0" font-size="8.8" stroke="#000" stroke-width="0.15">5</text></g>
<line x1="538.54" y1="1000.9" x2="538.54" y2="1008.4" stroke="#000" stroke-width="1.6"/>
<g transform="translate(533.65 1017.5) scale(1.0000 1.0)"><text x="0" y="0" font-size="8.8" stroke="#000" stroke-width="0.15">20</text></g>
<line x1="573.6" y1="1000.9" x2="573.6" y2="1008.4" stroke="#000" stroke-width="1.6"/>
<g transform="translate(568.71 1017.5) scale(1.0000 1.0)"><text x="0" y="0" font-size="8.8" stroke="#000" stroke-width="0.15">25</text></g>
<g transform="translate(445.8 1036) scale(0.9750 1.06)"><text x="0" y="0" font-size="11.7" stroke="#000" stroke-width="0.3">-Log</text><path transform="translate(25.33 0) scale(0.00571 -0.00571)" d="M478 0V1170L140 959V1180L493 1409H759V0Z" stroke="#000" stroke-width="52.5"/><text x="31.84" y="0" font-size="11.7" stroke="#000" stroke-width="0.3">0 P value</text></g>
<text transform="translate(407.2 724.2) scale(1 1.12)" font-size="14.4" textLength="157.4" lengthAdjust="spacingAndGlyphs" stroke="#000" stroke-width="0.3">GO terms in Lav group</text>
<text transform="translate(2.3 759.0) scale(0.80 1)" font-size="25.2" stroke="#000" stroke-width="0.7">C</text>
<path d="M586 739.2H590.5Q592.5 739.2 592.5 741.2V815.3Q592.5 817.3 590.5 817.3H586M592.5 778.2H598.6" fill="none" stroke="#00b050" stroke-width="2.6"/>
<path d="M586 829.5H590.4Q592.4 829.5 592.4 831.5V905.3Q592.4 907.3 590.4 907.3H586M592.4 868.4H598.6" fill="none" stroke="#ff0000" stroke-width="2.6"/>
<path d="M587.1 918.9H591.5Q593.5 918.9 593.5 920.9V995Q593.5 997 591.5 997H587.1M593.5 958H599.8" fill="none" stroke="#5b9bd5" stroke-width="2.6"/>
<text transform="translate(618.02 786.6) scale(1 1.04)" font-size="22" fill="#00b050" stroke="#00b050" stroke-width="0.45" textLength="64.16" lengthAdjust="spacingAndGlyphs">GOMF</text>
<text transform="translate(617.02 876.6) scale(1 1.04)" font-size="22" fill="#ff0000" stroke="#ff0000" stroke-width="0.45" textLength="58.06" lengthAdjust="spacingAndGlyphs">GOCC</text>
<text transform="translate(617.52 965.8) scale(1 1.04)" font-size="22" fill="#0070c0" stroke="#0070c0" stroke-width="0.45" textLength="58.56" lengthAdjust="spacingAndGlyphs">GOBP</text>
</svg></body></html>
